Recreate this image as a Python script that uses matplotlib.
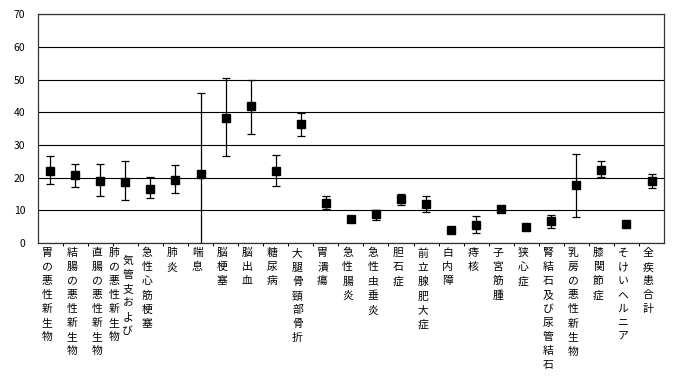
import matplotlib.pyplot as plt
import matplotlib.transforms as mtransforms

plt.rcParams['font.family'] = ['Noto Sans CJK JP', 'DejaVu Sans']

# disease categories (left to right)
labels = ["胃の悪性新生物", "結腸の悪性新生物", "直腸の悪性新生物",
          "気管支および肺の悪性新生物", "急性心筋梗塞", "肺炎", "喘息",
          "脳梗塞", "脳出血", "糖尿病", "大腿骨頸部骨折", "胃潰瘍",
          "急性腸炎", "急性虫垂炎", "胆石症", "前立腺肥大症", "白内障",
          "痔核", "子宮筋腫", "狭心症", "腎結石及び尿管結石",
          "乳房の悪性新生物", "膝関節症", "そけいヘルニア", "全疾患合計"]

means = [22.1, 20.7, 19.1, 18.8, 16.6, 19.4, 21.2, 38.3, 41.8, 22.1,
         36.3, 12.4, 7.3, 9.0, 13.5, 11.8, 4.0, 5.4, 10.3, 4.8,
         6.6, 17.7, 22.5, 5.7, 18.9]
upper = [26.5, 24.2, 24.2, 25.0, 20.1, 23.9, 45.8, 50.5, 49.8, 27.0,
         39.8, 14.4, 7.3, 10.1, 15.0, 14.4, 4.0, 8.3, 10.3, 4.8,
         8.7, 27.3, 25.0, 5.7, 21.0]
lower = [18.0, 17.2, 14.4, 13.1, 13.8, 15.2, -1.0, 26.6, 33.4, 17.6,
         32.9, 10.3, 7.3, 7.2, 11.5, 9.4, 4.0, 3.2, 10.3, 4.8,
         4.6, 8.0, 20.1, 5.7, 16.7]

# labels that the original wraps into two vertical columns (right column first)
wrapped = {"気管支および肺の悪性新生物": ["気管支および", "肺の悪性新生物"]}

fig = plt.figure(figsize=(6.79, 3.84), dpi=100)
ax = fig.add_axes([0.0555, 0.367, 0.9225, 0.596])

x = list(range(len(labels)))
yerr = [[m - lo for m, lo in zip(means, lower)],
        [hi - m for m, hi in zip(means, upper)]]
ax.errorbar(x, means, yerr=yerr, fmt='s', color='black', ms=6.3,
            ecolor='black', elinewidth=0.9, capsize=3.0, capthick=0.9,
            zorder=3)

ax.set_xlim(-0.5, len(labels) - 0.5)
ax.set_ylim(0, 70)
ax.set_yticks(range(0, 71, 10))
ax.yaxis.grid(True, color='black', linewidth=0.8)
ax.set_axisbelow(True)
ax.tick_params(axis='y', length=0, labelsize=7.5, pad=9)

# x ticks at category boundaries, labels drawn as vertical text
ax.set_xticks([i + 0.5 for i in x[:-1]])
ax.set_xticklabels([])
ax.tick_params(axis='x', direction='out', length=2.5, width=0.7)

for sp in ax.spines.values():
    sp.set_color('#333333')
    sp.set_linewidth(0.9)

fs = 7.8
ls = 1.5
trans = mtransforms.blended_transform_factory(ax.transData, ax.transAxes)
for i, lab in enumerate(labels):
    if lab in wrapped:
        right_col, left_col = wrapped[lab]
        ax.text(i - 0.45, -0.022, "\n".join(left_col), transform=trans,
                ha='center', va='top', fontsize=fs, linespacing=ls)
        ax.text(i + 0.1, -0.057, "\n".join(right_col), transform=trans,
                ha='center', va='top', fontsize=fs, linespacing=ls)
    else:
        ax.text(i - 0.13, -0.022, "\n".join(lab), transform=trans,
                ha='center', va='top', fontsize=fs, linespacing=ls)

fig.savefig('out.png', dpi=100)
